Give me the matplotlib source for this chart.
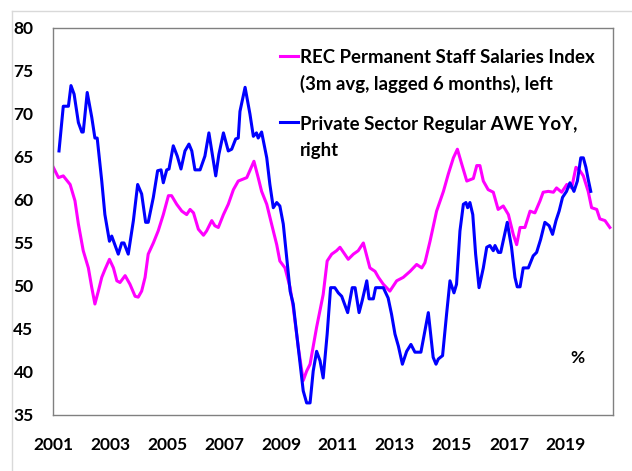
import matplotlib
matplotlib.use('Agg')
import matplotlib.pyplot as plt
from matplotlib.lines import Line2D

# REC Permanent Staff Salaries Index (3m avg, lagged 6 months)
rec_dates = [2001.01, 2001.19, 2001.36, 2001.60, 2001.77, 2001.89, 2002.06, 2002.24, 2002.36, 2002.47,
             2002.59, 2002.71, 2002.82, 2002.98, 2003.12, 2003.24, 2003.35, 2003.53, 2003.70, 2003.88,
             2003.99, 2004.11, 2004.23, 2004.34, 2004.52, 2004.69, 2004.87, 2005.05, 2005.16, 2005.34,
             2005.52, 2005.69, 2005.81, 2005.93, 2006.10, 2006.28, 2006.39, 2006.57, 2006.68, 2006.80,
             2006.98, 2007.15, 2007.33, 2007.50, 2007.80, 2008.05, 2008.20, 2008.32, 2008.50, 2008.67,
             2008.85, 2008.96, 2009.14, 2009.32, 2009.43, 2009.61, 2009.78, 2009.90, 2010.02, 2010.25,
             2010.48, 2010.62, 2010.78, 2010.95, 2011.07, 2011.36, 2011.54, 2011.71, 2011.89, 2012.12,
             2012.30, 2012.42, 2012.59, 2012.82, 2013.06, 2013.29, 2013.53, 2013.76, 2013.94, 2014.05,
             2014.23, 2014.46, 2014.70, 2014.87, 2015.05, 2015.19, 2015.34, 2015.52, 2015.75, 2015.87,
             2015.98, 2016.10, 2016.27, 2016.45, 2016.62, 2016.80, 2016.98, 2017.15, 2017.27, 2017.39,
             2017.56, 2017.74, 2017.91, 2018.09, 2018.20, 2018.38, 2018.56, 2018.67, 2018.85, 2019.03,
             2019.20, 2019.35, 2019.49, 2019.61, 2019.78, 2019.90, 2020.08, 2020.19, 2020.37, 2020.54]
rec_values = [63.8, 62.6, 62.8, 61.8, 59.9, 57.2, 54.1, 52.1, 49.8, 47.9,
              49.4, 51.0, 51.9, 53.1, 52.1, 50.6, 50.4, 51.2, 50.2, 48.8,
              48.7, 49.4, 51.0, 53.7, 55.0, 56.4, 58.3, 60.5, 60.5, 59.5,
              58.7, 58.3, 58.9, 58.5, 56.6, 55.9, 56.4, 57.6, 57.0, 56.8,
              58.3, 59.5, 61.2, 62.2, 62.6, 64.5, 62.6, 61.0, 59.5, 57.2,
              54.8, 52.9, 52.1, 49.8, 47.5, 42.8, 39.0, 40.1, 40.9, 45.2,
              49.0, 52.9, 53.7, 54.1, 54.5, 53.1, 53.7, 54.1, 55.0, 52.1,
              51.7, 51.0, 50.2, 49.4, 50.6, 51.0, 51.7, 52.5, 52.1, 52.7,
              55.2, 58.7, 61.0, 63.0, 64.9, 65.9, 64.2, 62.2, 62.5, 64.0,
              64.0, 62.2, 61.2, 60.9, 58.9, 59.3, 58.3, 56.0, 54.8, 56.8,
              56.8, 58.7, 58.5, 59.9, 60.9, 61.0, 60.9, 61.4, 60.9, 61.8,
              61.4, 63.8, 63.4, 62.8, 61.0, 59.1, 58.9, 57.8, 57.6, 56.8]

# Private Sector Regular AWE YoY (drawn on the right scale, shown here in chart units)
awe_dates = [2001.21, 2001.36, 2001.54, 2001.63, 2001.74, 2001.89, 2002.01, 2002.06, 2002.20, 2002.36,
             2002.47, 2002.55, 2002.71, 2002.82, 2002.98, 2003.06, 2003.29, 2003.41, 2003.49, 2003.64,
             2003.82, 2003.97, 2004.11, 2004.25, 2004.34, 2004.52, 2004.67, 2004.79, 2004.87, 2004.99,
             2005.07, 2005.22, 2005.36, 2005.49, 2005.63, 2005.77, 2005.87, 2005.98, 2006.16, 2006.33,
             2006.47, 2006.59, 2006.71, 2006.82, 2006.98, 2007.15, 2007.27, 2007.41, 2007.50, 2007.56,
             2007.74, 2007.91, 2008.03, 2008.14, 2008.20, 2008.32, 2008.50, 2008.61, 2008.73, 2008.85,
             2008.96, 2009.08, 2009.20, 2009.32, 2009.43, 2009.55, 2009.67, 2009.78, 2009.90, 2010.02,
             2010.13, 2010.25, 2010.37, 2010.48, 2010.62, 2010.74, 2010.89, 2011.01, 2011.13, 2011.34,
             2011.50, 2011.60, 2011.74, 2011.85, 2012.01, 2012.09, 2012.24, 2012.32, 2012.59, 2012.76,
             2012.88, 2013.00, 2013.12, 2013.26, 2013.41, 2013.56, 2013.70, 2013.91, 2014.05, 2014.17,
             2014.34, 2014.44, 2014.52, 2014.67, 2014.81, 2014.93, 2015.07, 2015.16, 2015.28, 2015.40,
             2015.49, 2015.55, 2015.63, 2015.73, 2015.83, 2015.95, 2016.10, 2016.22, 2016.33, 2016.45,
             2016.51, 2016.63, 2016.71, 2016.82, 2016.94, 2017.09, 2017.21, 2017.29, 2017.39, 2017.50,
             2017.68, 2017.85, 2017.97, 2018.11, 2018.26, 2018.41, 2018.53, 2018.65, 2018.76, 2018.88,
             2019.02, 2019.14, 2019.28, 2019.40, 2019.52, 2019.61, 2019.70, 2019.78, 2019.87]
awe_values = [65.7, 70.9, 70.9, 73.3, 72.3, 69.0, 67.9, 67.9, 72.5, 69.6,
              67.2, 67.2, 62.2, 58.3, 55.2, 55.8, 53.7, 55.0, 55.0, 53.7,
              57.6, 61.8, 60.7, 57.4, 57.4, 60.3, 63.4, 63.5, 62.0, 63.5,
              63.6, 66.3, 65.1, 63.6, 65.7, 66.5, 65.7, 63.5, 63.5, 65.1,
              67.8, 65.3, 62.8, 65.3, 67.8, 65.7, 65.9, 67.1, 67.2, 70.3,
              73.1, 70.0, 67.4, 67.8, 67.2, 67.9, 64.9, 61.8, 59.1, 59.7,
              59.3, 57.2, 53.3, 49.4, 47.9, 44.4, 40.9, 37.8, 36.4, 36.4,
              40.1, 42.4, 41.3, 39.3, 44.4, 49.8, 49.8, 49.2, 48.8, 46.9,
              49.8, 49.8, 46.9, 48.3, 50.6, 48.5, 48.5, 49.8, 49.8, 48.6,
              46.7, 44.4, 43.0, 40.9, 42.4, 43.2, 42.3, 42.3, 44.8, 46.9,
              41.7, 40.9, 41.5, 41.9, 46.7, 50.6, 49.2, 50.2, 56.4, 59.5,
              59.7, 59.1, 59.7, 58.3, 53.7, 49.8, 52.1, 54.5, 54.7, 54.1,
              54.7, 53.9, 53.9, 55.6, 57.4, 54.5, 51.0, 49.9, 49.9, 52.1,
              52.1, 53.5, 53.9, 55.4, 57.4, 57.0, 56.0, 57.6, 58.7, 60.3,
              61.0, 62.0, 61.0, 62.2, 64.9, 64.9, 63.8, 62.4, 61.0]

year_ticks = [2001, 2003, 2005, 2007, 2009, 2011, 2013, 2015, 2017, 2019]
y_ticks = [35, 40, 45, 50, 55, 60, 65, 70, 75, 80]

rec_label = ['REC Permanent Staff Salaries Index', '(3m avg, lagged 6 months), left']
awe_label = ['Private Sector Regular AWE YoY,', 'right']

plt.rcParams['font.family'] = ['Lato', 'DejaVu Sans']

fig = plt.figure(figsize=(6.32, 4.71), dpi=100)
ax = fig.add_axes([0.0839, 0.119, 0.886, 0.8216])

ax.plot(rec_dates, rec_values, color='#ff00ff', lw=2.2)
ax.plot(awe_dates, awe_values, color='#0000ff', lw=2.2)

ax.set_xlim(2001.0, 2020.65)
ax.set_ylim(35, 80)
ax.set_xticks(year_ticks)
ax.set_yticks(y_ticks)
ax.tick_params(axis='both', length=0, labelsize=12.5)
ax.tick_params(axis='y', pad=14)
ax.tick_params(axis='x', pad=16)
for lab in ax.get_xticklabels() + ax.get_yticklabels():
    lab.set_fontweight('bold')
for sp in ax.spines.values():
    sp.set_color('#808080')
    sp.set_linewidth(1.0)

# legend drawn by hand, Excel style
ax.add_line(Line2D([0.405, 0.438], [0.928, 0.928], transform=ax.transAxes, color='#ff00ff', lw=2.2))
ax.add_line(Line2D([0.405, 0.438], [0.757, 0.757], transform=ax.transAxes, color='#0000ff', lw=2.2))
for txt, yy in zip(rec_label + awe_label, [0.909, 0.840, 0.736, 0.670]):
    ax.text(0.441, yy, txt, transform=ax.transAxes, fontsize=13.4, fontweight='bold',
            va='baseline', ha='left')

ax.text(0.936, 0.147, '%', transform=ax.transAxes, fontsize=12.5, fontweight='bold',
        ha='center', va='center')

# thin outer frame
fig.add_artist(Line2D([12 / 632, 12 / 632], [0, 1 - 11 / 471], color='#d9d9d9', lw=1))
fig.add_artist(Line2D([12 / 632, 1], [1 - 11 / 471, 1 - 11 / 471], color='#d9d9d9', lw=1))

plt.savefig('out.png', dpi=100)
